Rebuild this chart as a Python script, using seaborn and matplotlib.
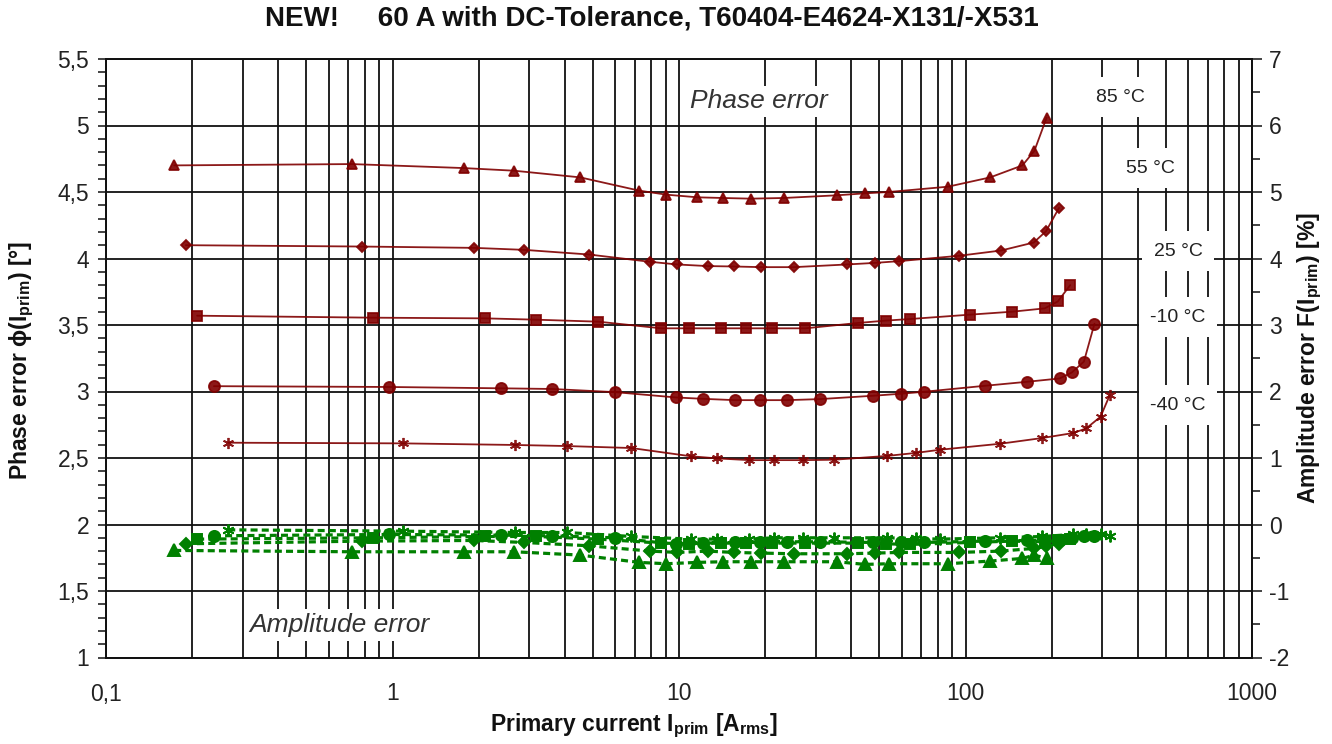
import matplotlib
matplotlib.use("Agg")
import matplotlib.pyplot as plt
from matplotlib.ticker import FixedLocator, MultipleLocator, LogLocator, FuncFormatter, NullFormatter
import seaborn as sns

# ---------------- data ----------------
# phase error phi [deg] versus primary current [A], per temperature
i_85 = [0.173, 0.72, 1.77, 2.66, 4.52, 7.27, 9.04, 11.6, 14.2, 17.8, 23.2, 35.5, 44.6, 54, 86.9, 122, 158, 174, 192]
phi_85 = [4.70, 4.71, 4.68, 4.66, 4.61, 4.51, 4.48, 4.46, 4.455, 4.45, 4.455, 4.475, 4.49, 4.50, 4.54, 4.61, 4.70, 4.81, 5.06]

i_55 = [0.19, 0.78, 1.92, 2.88, 4.85, 7.94, 9.87, 12.6, 15.5, 19.4, 25.2, 38.5, 48.3, 58.6, 94.6, 133, 173, 191, 212]
phi_55 = [4.10, 4.09, 4.08, 4.065, 4.03, 3.975, 3.955, 3.943, 3.94, 3.935, 3.935, 3.955, 3.967, 3.98, 4.02, 4.06, 4.12, 4.205, 4.38]

i_25 = [0.208, 0.853, 2.10, 3.17, 5.23, 8.67, 10.8, 14.0, 17.1, 21.2, 27.6, 42, 52.7, 64.1, 104, 145.5, 189, 210, 232]
phi_25 = [3.57, 3.555, 3.55, 3.54, 3.525, 3.475, 3.475, 3.475, 3.475, 3.475, 3.475, 3.515, 3.533, 3.545, 3.578, 3.60, 3.625, 3.677, 3.80]

i_m10 = [0.238, 0.97, 2.39, 3.6, 6.0, 9.8, 12.1, 15.7, 19.1, 23.9, 31.1, 47.6, 59.4, 71.7, 117, 164, 213, 235, 259, 282]
phi_m10 = [3.04, 3.034, 3.024, 3.019, 2.995, 2.955, 2.945, 2.935, 2.935, 2.935, 2.943, 2.968, 2.983, 2.998, 3.043, 3.073, 3.098, 3.143, 3.225, 3.51]

i_m40 = [0.267, 1.086, 2.67, 4.05, 6.82, 11.0, 13.6, 17.6, 21.4, 27, 34.8, 53.4, 67, 81.4, 132, 185, 238, 264, 296, 319]
phi_m40 = [2.615, 2.61, 2.598, 2.59, 2.575, 2.513, 2.497, 2.484, 2.484, 2.484, 2.487, 2.516, 2.538, 2.562, 2.607, 2.65, 2.688, 2.723, 2.81, 2.974]

# amplitude error F [%] at the same currents
amp_85 = [-0.39, -0.41, -0.41, -0.41, -0.46, -0.57, -0.59, -0.57, -0.56, -0.56, -0.56, -0.56, -0.60, -0.59, -0.59, -0.55, -0.51, -0.46, -0.51]
amp_55 = [-0.29, -0.25, -0.24, -0.27, -0.32, -0.40, -0.42, -0.40, -0.42, -0.43, -0.44, -0.44, -0.43, -0.42, -0.42, -0.40, -0.36, -0.33, -0.30]
amp_25 = [-0.22, -0.20, -0.18, -0.18, -0.22, -0.28, -0.29, -0.28, -0.28, -0.28, -0.28, -0.28, -0.29, -0.30, -0.27, -0.25, -0.26, -0.24, -0.22]
amp_m10 = [-0.17, -0.15, -0.16, -0.17, -0.20, -0.30, -0.28, -0.27, -0.27, -0.26, -0.26, -0.27, -0.26, -0.27, -0.25, -0.24, -0.23, -0.20, -0.18, -0.18]
amp_m40 = [-0.08, -0.10, -0.12, -0.12, -0.18, -0.22, -0.22, -0.22, -0.20, -0.20, -0.20, -0.20, -0.21, -0.22, -0.20, -0.18, -0.15, -0.14, -0.15, -0.17]

temp_labels = ["85 °C", "55 °C", "25 °C", "-10 °C", "-40 °C"]
temp_label_pos = [(346, 5.214), (441, 4.68), (552, 4.056), (552, 3.56), (552, 2.898)]

x_ticks = [0.1, 1, 10, 100, 1000]
x_tick_labels = ["0,1", "1", "10", "100", "1000"]

# ---------------- style ----------------
sns.set_style("white")
plt.rcParams["font.family"] = ["Liberation Sans", "DejaVu Sans"]
plt.rcParams["axes.unicode_minus"] = False
plt.rcParams["mathtext.fontset"] = "custom"
plt.rcParams["mathtext.rm"] = "Liberation Sans:bold"
plt.rcParams["mathtext.it"] = "Liberation Sans:bold"
plt.rcParams["mathtext.bf"] = "Liberation Sans:bold"

RED = "#800000"
GREEN = "#008000"
INK = "#111111"

fig = plt.figure(figsize=(13.32, 7.44), dpi=100)
ax = fig.add_axes([106 / 1332, 1 - 657.5 / 744, 1146 / 1332, 598.5 / 744])
ax2 = ax.twinx()

phase_series = [
    (i_85, phi_85, "^", 7.5),
    (i_55, phi_55, "D", 5.5),
    (i_25, phi_25, "s", 7.5),
    (i_m10, phi_m10, "o", 8),
    (i_m40, phi_m40, (6, 2, 0), 8),
]
amp_series = [
    (i_85, amp_85, "^", 8),
    (i_55, amp_55, "D", 6),
    (i_25, amp_25, "s", 7.5),
    (i_m10, amp_m10, "o", 8),
    (i_m40, amp_m40, (6, 2, 0), 8.5),
]

for xs, ys, mk, ms in phase_series:
    sns.lineplot(x=xs, y=ys, ax=ax, color=RED, lw=1.3, alpha=0.9,
                 marker=mk, markersize=ms, markeredgecolor=RED,
                 markerfacecolor=RED, markeredgewidth=1.3,
                 estimator=None, sort=False, zorder=4)

for xs, ys, mk, ms in amp_series:
    sns.lineplot(x=xs, y=ys, ax=ax2, color=GREEN, lw=2.3,
                 linestyle=(0, (2.2, 1.3)),
                 marker=mk, markersize=ms, markeredgecolor=GREEN,
                 markerfacecolor=GREEN, markeredgewidth=1.4,
                 estimator=None, sort=False, zorder=4)

# ---------------- axes ----------------
ax.set_xscale("log")
ax.set_xlim(0.1, 1000)
ax.set_ylim(1, 5.5)
ax2.set_ylim(-2, 7)

ax.xaxis.set_major_locator(FixedLocator(x_ticks))
ax.xaxis.set_major_formatter(FuncFormatter(lambda v, p: x_tick_labels[x_ticks.index(v)] if v in x_ticks else ""))
ax.xaxis.set_minor_locator(LogLocator(base=10, subs=range(2, 10)))
ax.xaxis.set_minor_formatter(NullFormatter())

ax.yaxis.set_major_locator(MultipleLocator(0.5))
ax.yaxis.set_minor_locator(MultipleLocator(0.1))
ax.yaxis.set_major_formatter(FuncFormatter(lambda v, p: f"{v:g}".replace(".", ",")))
ax2.yaxis.set_major_locator(MultipleLocator(1))
ax2.yaxis.set_minor_locator(MultipleLocator(0.5))
ax2.yaxis.set_major_formatter(FuncFormatter(lambda v, p: f"{v:g}"))

ax.grid(True, which="both", axis="x", color=INK, lw=1.3)
ax.grid(True, which="major", axis="y", color=INK, lw=1.3)
ax.set_axisbelow(True)

ax.tick_params(axis="x", which="both", length=0, pad=18, labelsize=16.5, labelcolor="#222222")
ax.tick_params(axis="y", which="both", direction="out", length=6, width=1.1,
               color=INK, pad=6, labelsize=16.5, labelcolor="#222222", left=True)
ax2.tick_params(axis="y", which="major", direction="out", length=7.5, width=1.1,
                color=INK, pad=5, labelsize=16.5, labelcolor="#222222", right=True)
ax2.tick_params(axis="y", which="minor", direction="out", length=5.5, width=1.1,
                color=INK, right=True)

for a in (ax, ax2):
    for s in a.spines.values():
        s.set_color(INK)
        s.set_linewidth(1.3)
ax.set_xlabel("")
ax.set_ylabel("")
ax2.set_ylabel("")

# ---------------- texts ----------------
for lab, (tx, ty) in zip(temp_labels, temp_label_pos):
    ax.text(tx, ty, lab, ha="center", va="center", fontsize=14, color="#222222",
            zorder=10, bbox=dict(boxstyle="square,pad=0.6", fc="white", ec="none"))

ax.text(0.57, 0.929, "Phase error", transform=ax.transAxes, ha="center", va="center",
        fontsize=19, style="italic", color="#333333", zorder=10,
        bbox=dict(boxstyle="square,pad=0.15", fc="white", ec="none"))
ax.text(0.204, 0.054, "Amplitude error", transform=ax.transAxes, ha="center", va="center",
        fontsize=19, style="italic", color="#333333", zorder=10,
        bbox=dict(boxstyle="square,pad=0.15", fc="white", ec="none"))

fig.text(652 / 1332, 1 - 19 / 744,
         "NEW!     60 A with DC-Tolerance, T60404-E4624-X131/-X531",
         ha="center", va="center", fontsize=20, fontweight="bold", color=INK)
fig.text(634 / 1332, 1 - 726 / 744, r"Primary current I$_\mathrm{prim}$ [A$_\mathrm{rms}$]",
         ha="center", va="center", fontsize=16.5, fontweight="bold", color=INK)
fig.text(22 / 1332, 1 - 360 / 744, r"Phase error ϕ(I$_\mathrm{prim}$) [°]",
         ha="center", va="center", rotation=90, fontsize=16.5, fontweight="bold", color=INK)
fig.text(1310 / 1332, 1 - 358 / 744, r"Amplitude error F(I$_\mathrm{prim}$) [%]",
         ha="center", va="center", rotation=90, fontsize=16.5, fontweight="bold", color=INK)

fig.savefig("out.png", dpi=100, facecolor="white")
